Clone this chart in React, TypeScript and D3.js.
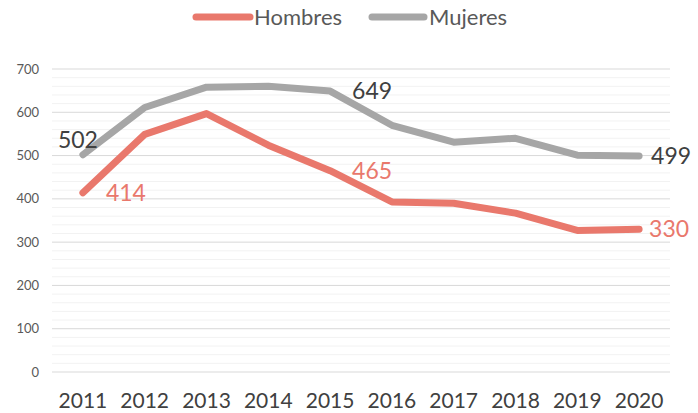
import * as d3 from 'd3';

const years = ['2011', '2012', '2013', '2014', '2015', '2016', '2017', '2018', '2019', '2020'];
const hombres = [414, 549, 597, 524, 465, 393, 390, 367, 327, 330];
const mujeres = [502, 611, 658, 660, 649, 570, 531, 540, 501, 499];
const yTicks = [0, 100, 200, 300, 400, 500, 600, 700];

const W = 698;
const H = 413;
const margin = { top: 69, right: 28, bottom: 41, left: 52 };
const font = 'Lato, "Open Sans", sans-serif';
const red = '#E9786C';
const gray = '#A6A6A6';

export default function App() {
  const x = d3
    .scaleBand()
    .domain(years)
    .range([margin.left, W - margin.right]);
  const y = d3
    .scaleLinear()
    .domain([0, 700])
    .range([H - margin.bottom, margin.top]);
  const cx = (d: string) => (x(d) ?? 0) + x.bandwidth() / 2;
  const line = d3
    .line<number>()
    .x((_, i) => cx(years[i]))
    .y((v) => y(v));
  const minor = d3.range(0, 701, 20).filter((v) => v % 100 !== 0);

  const series = [
    { name: 'Hombres', values: hombres, color: red },
    { name: 'Mujeres', values: mujeres, color: gray },
  ];
  const last = years.length - 1;

  return (
    <svg width={W} height={H} style={{ position: 'absolute', left: 0, top: 0, background: '#fff' }}>
      <g>
        {minor.map((v) => (
          <line key={'m' + v} x1={margin.left} x2={W - margin.right} y1={y(v)} y2={y(v)} stroke="#F2F2F2" strokeWidth={1} />
        ))}
        {yTicks.map((v) => (
          <line key={'M' + v} x1={margin.left} x2={W - margin.right} y1={y(v)} y2={y(v)} stroke="#D9D9D9" strokeWidth={1} />
        ))}
      </g>
      <g fontFamily={font} fontSize={13} fill="#595959" textAnchor="end">
        {yTicks.map((v) => (
          <text key={v} x={39} y={y(v)} dy="0.35em">{v}</text>
        ))}
      </g>
      <g fontFamily={font} fontSize={21} fill="#404040" textAnchor="middle">
        {years.map((d) => (
          <text key={d} x={cx(d)} y={H - 5}>{d}</text>
        ))}
      </g>
      {series.map((s) => (
        <path key={s.name} d={line(s.values) ?? ''} fill="none" stroke={s.color} strokeWidth={7} strokeLinejoin="round" strokeLinecap="round" />
      ))}
      <g fontFamily={font} fontSize={23}>
        <text x={cx(years[0]) - 25} y={y(mujeres[0]) - 7} fill="#404040">{mujeres[0]}</text>
        <text x={cx(years[0]) + 23} y={y(hombres[0])} dy="0.35em" fill={red}>{hombres[0]}</text>
        <text x={cx(years[4]) + 22} y={y(mujeres[4])} dy="0.35em" fill="#404040">{mujeres[4]}</text>
        <text x={cx(years[4]) + 22} y={y(hombres[4])} dy="0.35em" fill={red}>{hombres[4]}</text>
        <text x={cx(years[last]) + 12} y={y(mujeres[last])} dy="0.35em" fill="#404040">{mujeres[last]}</text>
        <text x={cx(years[last]) + 10} y={y(hombres[last])} dy="0.35em" fill={red}>{hombres[last]}</text>
      </g>
      <g fontFamily={font} fontSize={22} fill="#595959">
        <line x1={196} x2={250} y1={17} y2={17} stroke={red} strokeWidth={7} strokeLinecap="round" />
        <text x={254} y={17} dy="0.35em">Hombres</text>
        <line x1={372} x2={424} y1={17} y2={17} stroke={gray} strokeWidth={7} strokeLinecap="round" />
        <text x={429} y={17} dy="0.35em">Mujeres</text>
      </g>
    </svg>
  );
}
